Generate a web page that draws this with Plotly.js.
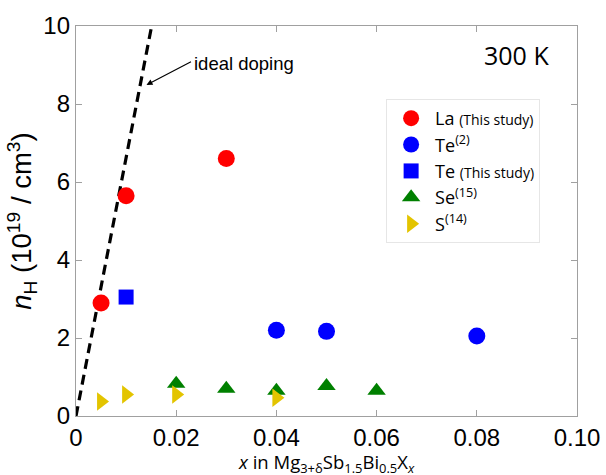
<!DOCTYPE html>
<html>
<head>
<meta charset="utf-8">
<script src="https://cdn.plot.ly/plotly-3.0.1.min.js"></script>
<style>html,body{margin:0;padding:0;background:#fff;}#chart{width:606px;height:475px;}</style>
</head>
<body>
<div id="chart"></div>
<script>
// Data
const laX = [0.005, 0.01, 0.03];
const laY = [2.9, 5.65, 6.6];
const te2X = [0.04, 0.05, 0.08];
const te2Y = [2.2, 2.17, 2.05];
const teX = [0.01];
const teY = [3.05];
const seX = [0.02, 0.03, 0.04, 0.05, 0.06];
const seY = [0.83, 0.7, 0.65, 0.77, 0.65];
const sX = [0.005, 0.01, 0.02, 0.04];
const sY = [0.37, 0.55, 0.55, 0.47];
const idealX = [0, 0.0151];
const idealY = [0, 10];
const xTickVals = [0, 0.02, 0.04, 0.06, 0.08, 0.10];
const xTickText = ["0", "0.02", "0.04", "0.06", "0.08", "0.10"];
const yTickVals = [0, 2, 4, 6, 8, 10];

const HUM = 'Open Sans, Noto Sans, sans-serif';
const ARI = 'Liberation Sans, Arial, sans-serif';
const small = t => '<span style="font-size:14px">' + t + '</span>';

const traces = [
  {x: idealX, y: idealY, mode: 'lines', line: {color: '#000', width: 3.2, dash: '10px,6px'}, showlegend: false, hoverinfo: 'skip'},
  {x: laX, y: laY, mode: 'markers', name: 'La ' + small('(This study)'), marker: {symbol: 'circle', size: 17, color: '#ff0000'}},
  {x: te2X, y: te2Y, mode: 'markers', name: 'Te<sup>(2)</sup>', marker: {symbol: 'circle', size: 17, color: '#0000ff'}},
  {x: teX, y: teY, mode: 'markers', name: 'Te ' + small('(This study)'), marker: {symbol: 'square', size: 15, color: '#0000ff'}},
  {x: seX, y: seY, mode: 'markers', name: 'Se<sup>(15)</sup>', marker: {symbol: 'triangle-up', size: 16, color: '#008000'}},
  {x: sX, y: sY, mode: 'markers', name: 'S<sup>(14)</sup>', marker: {symbol: 'triangle-right', size: 16, color: '#e3c400'}}
];

const axisCommon = {
  showgrid: false, zeroline: false, showline: true, linecolor: '#a0a0a0', linewidth: 1.2,
  mirror: 'ticks', ticks: 'inside', ticklen: 6, tickcolor: '#a0a0a0',
  tickfont: {family: ARI, size: 24, color: '#000'}
};

const layout = {
  width: 606, height: 475,
  margin: {l: 76, r: 29, t: 26, b: 59},
  paper_bgcolor: '#fff', plot_bgcolor: '#fff',
  font: {family: ARI, color: '#000'},
  xaxis: Object.assign({}, axisCommon, {
    range: [0, 0.1], tickvals: xTickVals, ticktext: xTickText
  }),
  yaxis: Object.assign({}, axisCommon, {
    range: [0, 10], tickvals: yTickVals,
    title: {text: '<i>n</i><sub>H</sub> (10<sup>19</sup> / cm<sup>3</sup>)', font: {family: ARI, size: 27.5}, standoff: 3}
  }),
  legend: {
    x: 0.619, y: 0.813, xanchor: 'left', yanchor: 'top',
    bgcolor: '#fff', bordercolor: '#e6e6e6', borderwidth: 1,
    font: {family: HUM, size: 18, color: '#000'},
    tracegroupgap: 0, itemwidth: 38
  },
  annotations: [
    {x: 0.5, y: -0.12, xref: 'paper', yref: 'paper', xanchor: 'center', yanchor: 'middle', showarrow: false,
     text: '<i>x</i> in Mg<sub>3+δ</sub>Sb<sub>1.5</sub>Bi<sub>0.5</sub>X<sub><i>x</i></sub>', font: {family: HUM, size: 18.5, color: '#000'}},
    {x: 0.88, y: (416 - 55) / 390, xref: 'paper', yref: 'paper', xanchor: 'center', yanchor: 'middle', showarrow: false,
     text: '300 K', font: {family: HUM, size: 25, color: '#000'}},
    {x: 0.01407, y: 8.49, xref: 'x', yref: 'y', ax: 46, ay: -24, axref: 'pixel', ayref: 'pixel',
     text: '', showarrow: true, arrowhead: 2, arrowsize: 1, arrowwidth: 1.2, arrowcolor: '#000'},
    {x: 0.02325, y: 9.05, xref: 'x', yref: 'y', xanchor: 'left', yanchor: 'middle', showarrow: false,
     text: 'ideal doping', font: {family: ARI, size: 18.5, color: '#000'}}
  ]
};

Plotly.newPlot('chart', traces, layout, {displayModeBar: false, staticPlot: true});
</script>
</body>
</html>
